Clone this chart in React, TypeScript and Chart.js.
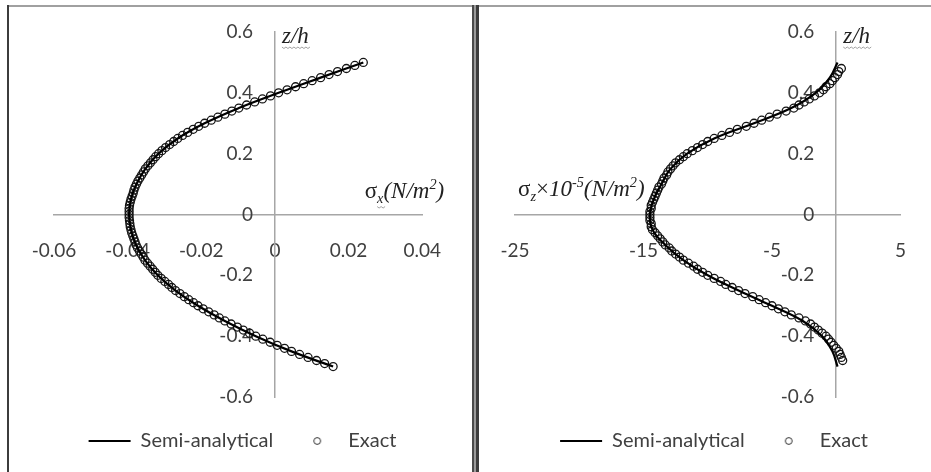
import React, { useEffect, useRef } from 'react';
import { Chart, registerables } from 'chart.js';

Chart.register(...registerables);

// ---------- data ----------
const seriesNames = ['Semi-analytical', 'Exact'];

// z/h positions of the "Exact" markers, left panel
const zExactLeft = [
  -0.5, -0.49, -0.48, -0.47, -0.46, -0.45, -0.44, -0.43, -0.42, -0.41,
  -0.4, -0.39, -0.38, -0.37, -0.36, -0.35, -0.34, -0.33, -0.32, -0.31,
  -0.3, -0.29, -0.28, -0.27, -0.26, -0.25, -0.24, -0.23, -0.22, -0.21,
  -0.2, -0.19, -0.18, -0.17, -0.16, -0.15, -0.14, -0.13, -0.12, -0.11,
  -0.1, -0.09, -0.08, -0.07, -0.06, -0.05, -0.04, -0.03, -0.02, -0.01,
  0,
  0.01, 0.02, 0.03, 0.04, 0.05, 0.06, 0.07, 0.08, 0.09, 0.1,
  0.11, 0.12, 0.13, 0.14, 0.15, 0.16, 0.17, 0.18, 0.19, 0.2,
  0.21, 0.22, 0.23, 0.24, 0.25, 0.26, 0.27, 0.28, 0.29, 0.3,
  0.31, 0.32, 0.33, 0.34, 0.35, 0.36, 0.37, 0.38, 0.39, 0.4,
  0.41, 0.42, 0.43, 0.44, 0.45, 0.46, 0.47, 0.48, 0.49, 0.5,
];

// sigma_x (N/m^2), Exact
const sigmaXExact = [
  0.0158, 0.0135, 0.0113, 0.009, 0.0067, 0.0045, 0.0026, 0.0006, -0.0013, -0.0033,
  -0.0052, -0.0069, -0.0086, -0.0102, -0.0119, -0.0136, -0.0151, -0.0165, -0.018, -0.0195,
  -0.0209, -0.0221, -0.0234, -0.0246, -0.0258, -0.027, -0.028, -0.0289, -0.0299, -0.0309,
  -0.0318, -0.0325, -0.0332, -0.0339, -0.0346, -0.0353, -0.0358, -0.0363, -0.0368, -0.0373,
  -0.0377, -0.038, -0.0383, -0.0386, -0.0389, -0.0391, -0.0393, -0.0394, -0.0395, -0.0396,
  -0.0396,
  -0.0396, -0.0396, -0.0395, -0.0393, -0.0391, -0.0388, -0.0385, -0.0383, -0.038, -0.0376,
  -0.0372, -0.0367, -0.0362, -0.0357, -0.0352, -0.0345, -0.0338, -0.0331, -0.0324, -0.0316,
  -0.0307, -0.0297, -0.0286, -0.0275, -0.0264, -0.0251, -0.0237, -0.0222, -0.0207, -0.0191,
  -0.0173, -0.0155, -0.0136, -0.0117, -0.0098, -0.0077, -0.0055, -0.0034, -0.0012, 0.001,
  0.0033, 0.0056, 0.0078, 0.0101, 0.0124, 0.0147, 0.017, 0.0194, 0.0217, 0.024,
];

// z/h positions of the "Exact" markers, right panel
const zExactRight = [
  -0.48, -0.47, -0.46, -0.45, -0.44, -0.43, -0.42, -0.41,
  -0.4, -0.39, -0.38, -0.37, -0.36, -0.35, -0.34, -0.33, -0.32, -0.31,
  -0.3, -0.29, -0.28, -0.27, -0.26, -0.25, -0.24, -0.23, -0.22, -0.21,
  -0.2, -0.19, -0.18, -0.17, -0.16, -0.15, -0.14, -0.13, -0.12, -0.11,
  -0.1, -0.09, -0.08, -0.07, -0.06, -0.05, -0.04, -0.03, -0.02, -0.01,
  0,
  0.01, 0.02, 0.03, 0.04, 0.05, 0.06, 0.07, 0.08, 0.09, 0.1,
  0.11, 0.12, 0.13, 0.14, 0.15, 0.16, 0.17, 0.18, 0.19, 0.2,
  0.21, 0.22, 0.23, 0.24, 0.25, 0.26, 0.27, 0.28, 0.29, 0.3,
  0.31, 0.32, 0.33, 0.34, 0.35, 0.36, 0.37, 0.38, 0.39, 0.4,
  0.41, 0.42, 0.43, 0.44, 0.45, 0.46, 0.47, 0.48,
];

// sigma_z x 1e-5 (N/m^2), Exact
const sigmaZExact = [
  0.5, 0.4, 0.3, 0.2, 0.0, -0.2, -0.4, -0.6,
  -0.8, -1.1, -1.4, -1.7, -2.0, -2.4, -2.9, -3.5, -4.0, -4.5,
  -5.0, -5.5, -6.0, -6.5, -7.1, -7.6, -8.1, -8.6, -9.0, -9.5,
  -10.0, -10.4, -10.8, -11.1, -11.5, -11.9, -12.2, -12.5, -12.8, -13.0,
  -13.3, -13.5, -13.7, -13.9, -14.1, -14.3, -14.4, -14.4, -14.5, -14.5,
  -14.5,
  -14.5, -14.4, -14.4, -14.3, -14.2, -14.1, -14.0, -13.9, -13.8, -13.6,
  -13.5, -13.4, -13.2, -13.1, -12.9, -12.7, -12.5, -12.2, -11.9, -11.6,
  -11.2, -10.8, -10.4, -10.0, -9.5, -8.9, -8.3, -7.7, -7.0, -6.4,
  -5.8, -5.2, -4.6, -3.9, -3.3, -2.9, -2.5, -2.1, -1.7, -1.3,
  -1.0, -0.8, -0.5, -0.3, -0.1, 0.1, 0.2, 0.4,
];

// z/h positions of the Semi-analytical curve
const zSemi = [
  -0.5, -0.45, -0.4, -0.35, -0.3, -0.25, -0.2, -0.15, -0.1, -0.05,
  0, 0.05, 0.1, 0.15, 0.2, 0.25, 0.3, 0.35, 0.4, 0.45, 0.5,
];
const sigmaXSemi = [
  0.0158, 0.0045, -0.0052, -0.0136, -0.0209, -0.027, -0.0318, -0.0353, -0.0377, -0.0391,
  -0.0396, -0.0391, -0.0376, -0.0352, -0.0316, -0.0264, -0.0191, -0.0098, 0.001, 0.0124, 0.024,
];
const sigmaZSemi = [
  0.1, -0.3, -1.1, -2.6, -5.0, -7.6, -10.0, -11.9, -13.3, -14.3,
  -14.5, -14.2, -13.6, -12.9, -11.6, -9.5, -6.4, -3.5, -1.6, -0.5, 0.1,
];

// axis ranges / ticks
const leftXAxis = { min: -0.06, max: 0.04, step: 0.02 };
const rightXAxis = { min: -25, max: 5, step: 10 };
const zAxis = { min: -0.6, max: 0.6, step: 0.2 };

type Piece = { t: string; kind?: 'sub' | 'sup'; upright?: boolean; wavy?: boolean };
const zTitle: Piece[] = [{ t: 'z/h', wavy: true }];
const leftXTitle: Piece[] = [
  { t: 'σ', upright: true },
  { t: 'x', kind: 'sub', wavy: true },
  { t: '(N/m' },
  { t: '2', kind: 'sup' },
  { t: ')' },
];
const rightXTitle: Piece[] = [
  { t: 'σ', upright: true },
  { t: 'z', kind: 'sub' },
  { t: '×', upright: true },
  { t: '10' },
  { t: '-5', kind: 'sup' },
  { t: '(N/m' },
  { t: '2', kind: 'sup' },
  { t: ')' },
];

// ---------- helpers ----------
const TEXT = '#404040';
const AXIS = '#a6a6a6';
const FONT = 'Lato';
const TITLE_SIZE = 23;

function pieceFont(p: Piece, size: number) {
  const fs = p.kind ? size * 0.62 : size;
  return `${p.upright ? '' : 'italic '}${fs}px "Liberation Serif", "Times New Roman", serif`;
}

function piecesWidth(ctx: CanvasRenderingContext2D, pieces: Piece[], size: number) {
  let w = 0;
  ctx.save();
  for (const p of pieces) {
    ctx.font = pieceFont(p, size);
    w += ctx.measureText(p.t).width;
  }
  ctx.restore();
  return w;
}

function drawPieces(ctx: CanvasRenderingContext2D, pieces: Piece[], x: number, y: number, size: number) {
  let cx = x;
  ctx.save();
  ctx.fillStyle = '#222';
  ctx.textBaseline = 'alphabetic';
  ctx.textAlign = 'left';
  for (const p of pieces) {
    ctx.font = pieceFont(p, size);
    const dy = p.kind === 'sub' ? size * 0.22 : p.kind === 'sup' ? -size * 0.38 : 0;
    ctx.fillText(p.t, cx, y + dy);
    const w = ctx.measureText(p.t).width;
    if (p.wavy) {
      ctx.save();
      ctx.strokeStyle = '#a0a0a0';
      ctx.lineWidth = 1;
      ctx.beginPath();
      const wy = y + dy + 4;
      for (let i = 0; i <= Math.ceil(w / 2); i++) {
        const px = cx + i * 2;
        const py = wy + (i % 2 === 0 ? 0 : 1.5);
        if (i === 0) ctx.moveTo(px, py);
        else ctx.lineTo(px, py);
      }
      ctx.stroke();
      ctx.restore();
    }
    cx += w;
  }
  ctx.restore();
}

function makeCircleIcon() {
  const c = document.createElement('canvas');
  c.width = 12;
  c.height = 12;
  const g = c.getContext('2d')!;
  g.beginPath();
  g.arc(6, 6, 3.4, 0, Math.PI * 2);
  g.strokeStyle = '#333';
  g.lineWidth = 1;
  g.stroke();
  return c;
}

// y tick labels of an axis placed at x = 0 sit flush against the line; move them left
const Y_LABEL_GAP = 22;
const yLabelShift = {
  id: 'yLabelShift',
  beforeDraw(chart: Chart) {
    const ys: any = chart.scales.y;
    const items = ys.getLabelItems();
    if (!items.__shifted) {
      items.forEach((it: any) => {
        it.options.translation[0] -= Y_LABEL_GAP;
      });
      items.__shifted = true;
    }
  },
};

function buildConfig(
  semiX: number[],
  exactZ: number[],
  exactX: number[],
  xAxis: { min: number; max: number; step: number },
  padding: { left: number; right: number; top: number; bottom: number },
  xTitle: Piece[],
  xTitlePos: (c: Chart, w: number) => { x: number; y: number }
): any {
  const circleIcon = makeCircleIcon();
  const semiData = zSemi.map((z, i) => ({ x: semiX[i], y: z }));
  const exactData = exactZ.map((z, i) => ({ x: exactX[i], y: z }));
  const titlesPlugin = {
    id: 'axisTitles',
    afterDraw(chart: Chart) {
      const ctx = chart.ctx;
      const xs = chart.scales.x;
      const ys = chart.scales.y;
      drawPieces(ctx, zTitle, xs.getPixelForValue(0) + 7, ys.getPixelForValue(zAxis.max) + 11, TITLE_SIZE);
      const w = piecesWidth(ctx, xTitle, TITLE_SIZE);
      const p = xTitlePos(chart, w);
      drawPieces(ctx, xTitle, p.x, p.y, TITLE_SIZE);
    },
  };
  return {
    type: 'scatter',
    data: {
      datasets: [
        {
          label: seriesNames[0],
          data: semiData,
          showLine: true,
          borderColor: '#000',
          borderWidth: 2.2,
          pointRadius: 0,
          pointHoverRadius: 0,
          pointBorderWidth: 2,
          pointStyle: 'line',
          tension: 0.4,
        },
        {
          label: seriesNames[1],
          data: exactData,
          showLine: false,
          borderColor: '#151515',
          backgroundColor: 'rgba(255,255,255,0)',
          borderWidth: 1.3,
          pointRadius: 4,
          pointStyle: 'circle',
        },
      ],
    },
    options: {
      responsive: false,
      animation: false,
      devicePixelRatio: 1,
      layout: { padding },
      scales: {
        x: {
          type: 'linear',
          position: { y: 0 },
          min: xAxis.min,
          max: xAxis.max,
          ticks: {
            stepSize: xAxis.step,
            padding: 25,
            color: TEXT,
            font: { family: FONT, size: 19 },
            maxRotation: 0,
            autoSkip: false,
          },
          grid: { display: false, drawTicks: false },
          border: { display: true, color: AXIS, width: 1.5 },
        },
        y: {
          type: 'linear',
          position: { x: 0 },
          min: zAxis.min,
          max: zAxis.max,
          ticks: {
            stepSize: zAxis.step,
            padding: 0,
            color: TEXT,
            font: { family: FONT, size: 19 },
            autoSkip: false,
          },
          grid: { display: false, drawTicks: false },
          border: { display: true, color: AXIS, width: 1.5 },
        },
      },
      plugins: {
        tooltip: { enabled: false },
        legend: {
          display: true,
          position: 'bottom',
          align: 'center',
          title: { display: true, text: '', font: { size: 10, lineHeight: 1 }, padding: { top: 0, bottom: 1 } },
          labels: {
            usePointStyle: true,
            pointStyleWidth: 42,
            boxHeight: 5,
            padding: 23,
            color: TEXT,
            font: { family: FONT, size: 20 },
            generateLabels: (chart: Chart) => {
              const items = (Chart as any).defaults.plugins.legend.labels.generateLabels(chart);
              items.sort((a: any, b: any) => a.datasetIndex - b.datasetIndex);
              items.forEach((it: any) => {
                if (it.datasetIndex === 0) {
                  it.pointStyle = 'line';
                  it.strokeStyle = '#000';
                  it.fillStyle = '#000';
                  it.lineWidth = 2;
                } else {
                  it.pointStyle = circleIcon;
                }
              });
              return items;
            },
          },
        },
      },
    },
    plugins: [yLabelShift, titlesPlugin],
  };
}

function Panel(props: { left: number; width: number; cfg: () => any }) {
  const ref = useRef<HTMLCanvasElement | null>(null);
  useEffect(() => {
    if (!ref.current) return;
    const chart = new Chart(ref.current, props.cfg());
    return () => chart.destroy();
  }, []);
  return (
    <canvas
      ref={ref}
      width={props.width}
      height={472}
      style={{ position: 'absolute', left: props.left, top: 0, width: props.width, height: 472, display: 'block' }}
    />
  );
}

export default function App() {
  return (
    <div
      style={{
        position: 'fixed',
        left: 0,
        top: 0,
        width: 931,
        height: 472,
        background: '#fff',
        overflow: 'hidden',
      }}
    >
      <Panel
        left={0}
        width={466}
        cfg={() =>
          buildConfig(
            sigmaXSemi,
            zExactLeft,
            sigmaXExact,
            leftXAxis,
            { left: 54, right: 35, top: 32, bottom: 11 },
            leftXTitle,
            (c, w) => ({ x: c.chartArea.right + 22 - w, y: c.scales.y.getPixelForValue(0) - 17 })
          )
        }
      />
      <Panel
        left={466}
        width={465}
        cfg={() =>
          buildConfig(
            sigmaZSemi,
            zExactRight,
            sigmaZExact,
            rightXAxis,
            { left: 49, right: 18, top: 32, bottom: 11 },
            rightXTitle,
            (c) => ({ x: c.chartArea.left + 3, y: c.scales.y.getPixelForValue(0) - 19 })
          )
        }
      />
      {/* panel frames */}
      <div style={{ position: 'absolute', left: 7, top: 5, width: 924, height: 2, background: '#a0a0a0' }} />
      <div style={{ position: 'absolute', left: 7, top: 5, width: 2, height: 467, background: '#3c3c3c' }} />
      <div style={{ position: 'absolute', left: 472, top: 5, width: 2, height: 467, background: '#4a4a4a' }} />
      <div style={{ position: 'absolute', left: 474, top: 5, width: 2, height: 467, background: '#9a9a9a' }} />
      <div style={{ position: 'absolute', left: 476, top: 5, width: 3, height: 467, background: '#3c3c3c' }} />
    </div>
  );
}
